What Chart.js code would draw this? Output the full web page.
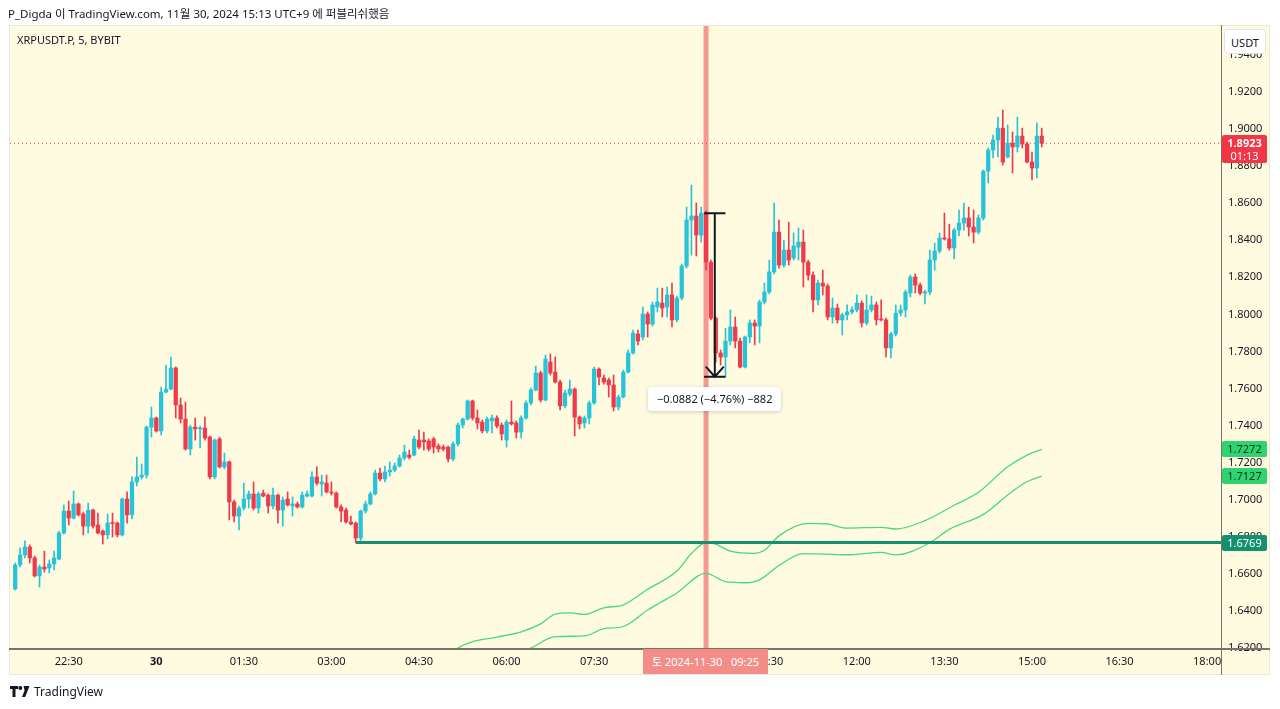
<!DOCTYPE html>
<html>
<head>
<meta charset="utf-8">
<script src="https://cdn.jsdelivr.net/npm/chart.js@4.4.1/dist/chart.umd.min.js"></script>
<style>
html,body{margin:0;padding:0;background:#fff;width:1280px;height:709px;overflow:hidden;font-family:"Noto Sans","Noto Sans CJK KR",sans-serif;color:#131722}
#panel{position:absolute;left:9px;top:25px;width:1261px;height:650px;background:#fffbe1;box-sizing:border-box;border:1px solid #ece8d4}
#c{position:absolute;left:0;top:0}
.abs{position:absolute;white-space:nowrap}
#hdr{left:8px;top:5px;font-size:11.5px}
#legend{left:17px;top:32px;font-size:11px}
#usdt{left:1224px;top:29px;width:42px;height:25px;line-height:25px;text-align:center;background:#fff;border:1px solid #e0e3eb;border-radius:4px;font-size:11px;box-sizing:border-box}
.tag{left:1222px;width:45px;height:16px;line-height:16px;text-align:center;font-size:11px;border-radius:2px}
#lastTag{height:28px;line-height:13px;background:#f23645;color:#fff;padding-top:1px;box-sizing:border-box}
#measure{height:24px;line-height:24px;padding:0 9px;background:#fff;border-radius:4px;box-shadow:0 1px 4px rgba(0,0,0,0.18);font-size:11px}
#timeTag{top:649px;height:25px;line-height:25px;width:125px;padding-left:9px;box-sizing:border-box;background:#f38d87;color:#fff;font-size:11px}
#footer{left:10px;top:683px;font-size:12px;display:flex;align-items:center;gap:4px}
</style>
</head>
<body>
<div id="panel"></div>
<canvas id="c" width="1280" height="709"></canvas>
<div id="hdr" class="abs">P_Digda 이 TradingView.com, 11월 30, 2024 15:13 UTC+9 에 퍼블리쉬했음</div>
<div id="legend" class="abs">XRPUSDT.P, 5, BYBIT</div>
<div id="usdt" class="abs">USDT</div>
<div id="lastTag" class="abs tag"></div>
<div id="upTag" class="abs tag" style="background:#2fd36f;color:#0b3b1d"></div>
<div id="loTag" class="abs tag" style="background:#2fd36f;color:#0b3b1d"></div>
<div id="supTag" class="abs tag" style="background:#15906f;color:#fff"></div>
<div id="measure" class="abs"></div>
<div id="timeTag" class="abs"></div>
<div id="footer" class="abs"><svg width="20" height="12" viewBox="0 0 20 12"><path d="M0 0h8v3H5.5v8H2.5V3H0z" fill="#131722"/><circle cx="10.3" cy="2" r="2" fill="#131722"/><path d="M13.5 0h6l-4.3 11h-3.2l2.6-6.6z" fill="#131722"/></svg><span>TradingView</span></div>
<script>
// ---- data ----
const firstBar = -11; // bars counted from 22:30 (5-minute candles)
const opens = [
1.6518,1.6648,1.6702,1.6745,1.6686,1.6589,1.6637,1.6632,1.6653,1.6680,1.6820,
1.6939,1.6901,1.6977,1.6923,1.6858,1.6944,1.6864,1.6831,1.6810,1.6874,
1.6874,1.6810,1.7004,1.6918,1.7096,1.7123,1.7133,1.7392,1.7441,1.7371,
1.7581,1.7597,1.7711,1.7511,1.7435,1.7274,1.7392,1.7382,1.7387,1.7338,
1.7123,1.7328,1.7177,1.7204,1.6988,1.6912,1.6955,1.7004,1.7031,1.6955,
1.7036,1.7025,1.6966,1.7025,1.6944,1.7004,1.6966,1.6977,1.6961,1.7020,
1.7020,1.7123,1.7085,1.7090,1.7042,1.7036,1.6961,1.6944,1.6880,1.6874,
1.6793,1.6939,1.6977,1.7031,1.7144,1.7112,1.7150,1.7160,1.7182,1.7225,
1.7241,1.7241,1.7322,1.7322,1.7317,1.7328,1.7290,1.7284,1.7284,1.7220,
1.7301,1.7403,1.7435,1.7533,1.7441,1.7419,1.7371,1.7425,1.7441,1.7403,
1.7322,1.7419,1.7414,1.7365,1.7441,1.7522,1.7592,1.7684,1.7538,1.7743,
1.7689,1.7635,1.7506,1.7570,1.7597,1.7446,1.7414,1.7441,1.7522,1.7705,
1.7657,1.7646,1.7619,1.7500,1.7554,1.7689,1.7792,1.7894,1.7878,1.8002,
1.7948,1.8040,1.8061,1.8040,1.8105,1.7970,1.8088,1.8261,1.8509,1.8531,
1.8428,1.8546,1.8282,1.7980,1.7792,1.7770,1.7856,1.7932,1.7856,1.7716,
1.7878,1.7954,1.7937,1.8067,1.8121,1.8229,1.8444,1.8266,1.8347,1.8304,
1.8363,1.8390,1.8282,1.8212,1.8078,1.8169,1.8153,1.7986,1.8034,1.7970,
1.7997,1.8013,1.8024,1.8061,1.7954,1.8024,1.8051,1.7975,1.7970,1.7819,
1.7894,1.8007,1.8024,1.8115,1.8202,1.8158,1.8115,1.8121,1.8293,1.8342,
1.8412,1.8407,1.8358,1.8455,1.8493,1.8520,1.8471,1.8444,1.8520,1.8773,
1.8887,1.8941,1.9005,1.8849,1.8924,1.8903,1.8962,1.8919,1.8822,1.8790,
1.8962];
const highs = [
1.6659,1.6740,1.6778,1.6756,1.6696,1.6648,1.6723,1.6675,1.6723,1.6831,1.6972,
1.6993,1.7047,1.6982,1.6934,1.6982,1.6950,1.6928,1.6837,1.6923,1.6928,
1.6880,1.7009,1.7042,1.7123,1.7230,1.7193,1.7398,1.7500,1.7446,1.7608,
1.7727,1.7770,1.7716,1.7549,1.7527,1.7403,1.7441,1.7398,1.7446,1.7344,
1.7328,1.7338,1.7252,1.7209,1.6998,1.6966,1.7090,1.7047,1.7096,1.7042,
1.7052,1.7031,1.7063,1.7031,1.7015,1.7042,1.7015,1.6988,1.7042,1.7047,
1.7150,1.7177,1.7133,1.7133,1.7096,1.7042,1.6972,1.6955,1.6912,1.6880,
1.6944,1.6993,1.7042,1.7160,1.7171,1.7182,1.7204,1.7198,1.7241,1.7295,
1.7268,1.7344,1.7376,1.7365,1.7328,1.7338,1.7301,1.7295,1.7290,1.7312,
1.7414,1.7441,1.7538,1.7538,1.7484,1.7430,1.7446,1.7457,1.7452,1.7414,
1.7430,1.7533,1.7425,1.7452,1.7533,1.7603,1.7721,1.7694,1.7781,1.7786,
1.7770,1.7646,1.7592,1.7646,1.7603,1.7452,1.7452,1.7533,1.7716,1.7711,
1.7673,1.7657,1.7673,1.7565,1.7700,1.7808,1.7916,1.7916,1.8040,1.8013,
1.8067,1.8142,1.8142,1.8148,1.8169,1.8099,1.8272,1.8579,1.8698,1.8601,
1.8579,1.8558,1.8293,1.7986,1.7808,1.7926,1.8024,1.7986,1.7872,1.7883,
1.7970,1.7970,1.8078,1.8169,1.8293,1.8601,1.8509,1.8401,1.8498,1.8439,
1.8466,1.8455,1.8293,1.8229,1.8185,1.8239,1.8164,1.8088,1.8056,1.8007,
1.8051,1.8040,1.8105,1.8072,1.8105,1.8099,1.8067,1.8078,1.7980,1.7905,
1.8051,1.8051,1.8131,1.8212,1.8218,1.8169,1.8131,1.8347,1.8385,1.8439,
1.8547,1.8487,1.8466,1.8563,1.8601,1.8579,1.8563,1.8536,1.8779,1.8898,
1.8968,1.9065,1.9103,1.9022,1.8984,1.9065,1.9005,1.8930,1.8876,1.9032,
1.9005];
const lows = [
1.6513,1.6637,1.6686,1.6659,1.6583,1.6529,1.6610,1.6605,1.6621,1.6675,1.6815,
1.6864,1.6896,1.6912,1.6810,1.6820,1.6847,1.6815,1.6761,1.6788,1.6799,
1.6799,1.6804,1.6874,1.6896,1.7074,1.7112,1.7117,1.7338,1.7365,1.7349,
1.7576,1.7592,1.7441,1.7414,1.7268,1.7241,1.7322,1.7279,1.7322,1.7112,
1.7112,1.7171,1.7166,1.6891,1.6880,1.6837,1.6944,1.6955,1.6944,1.6928,
1.7015,1.6928,1.6950,1.6874,1.6858,1.6966,1.6912,1.6955,1.6955,1.7015,
1.7015,1.7079,1.7020,1.7036,1.7025,1.6955,1.6880,1.6874,1.6864,1.6769,
1.6777,1.6928,1.6972,1.7025,1.7101,1.7096,1.7128,1.7150,1.7177,1.7214,
1.7220,1.7236,1.7274,1.7268,1.7263,1.7252,1.7257,1.7263,1.7204,1.7209,
1.7290,1.7387,1.7430,1.7430,1.7382,1.7360,1.7360,1.7360,1.7387,1.7322,
1.7284,1.7403,1.7333,1.7333,1.7435,1.7511,1.7587,1.7527,1.7533,1.7673,
1.7630,1.7484,1.7495,1.7560,1.7344,1.7382,1.7387,1.7409,1.7516,1.7619,
1.7624,1.7554,1.7479,1.7484,1.7549,1.7684,1.7786,1.7835,1.7862,1.7878,
1.7937,1.8013,1.7986,1.7986,1.7932,1.7959,1.8078,1.8250,1.8320,1.8315,
1.8390,1.8239,1.7970,1.7743,1.7727,1.7664,1.7835,1.7819,1.7711,1.7711,
1.7846,1.7835,1.7846,1.8056,1.8110,1.8218,1.8250,1.8255,1.8266,1.8293,
1.8293,1.8148,1.8185,1.8013,1.8051,1.8105,1.7970,1.7953,1.7953,1.7889,
1.7970,1.8002,1.8013,1.7932,1.7943,1.8013,1.7943,1.7964,1.7770,1.7765,
1.7883,1.7991,1.7986,1.8094,1.8115,1.8105,1.8056,1.8105,1.8239,1.8331,
1.8401,1.8347,1.8299,1.8423,1.8455,1.8423,1.8385,1.8434,1.8509,1.8709,
1.8844,1.8849,1.8806,1.8844,1.8763,1.8876,1.8898,1.8817,1.8725,1.8736,
1.8903];
const closes = [
1.6648,1.6702,1.6745,1.6686,1.6589,1.6637,1.6626,1.6653,1.6686,1.6820,1.6939,
1.6901,1.6977,1.6918,1.6858,1.6944,1.6858,1.6820,1.6810,1.6874,1.6872,
1.6810,1.7004,1.6918,1.7096,1.7123,1.7133,1.7392,1.7441,1.7371,1.7581,
1.7597,1.7711,1.7511,1.7435,1.7274,1.7392,1.7382,1.7387,1.7333,1.7123,
1.7322,1.7177,1.7204,1.6988,1.6912,1.6955,1.7004,1.7031,1.6955,1.7031,
1.7020,1.6966,1.7025,1.6944,1.6998,1.6972,1.6977,1.6961,1.7025,1.7031,
1.7123,1.7090,1.7096,1.7042,1.7036,1.6961,1.6939,1.6880,1.6869,1.6793,
1.6939,1.6977,1.7031,1.7144,1.7112,1.7150,1.7160,1.7182,1.7225,1.7257,
1.7230,1.7328,1.7284,1.7312,1.7274,1.7284,1.7274,1.7274,1.7220,1.7301,
1.7403,1.7435,1.7533,1.7441,1.7414,1.7371,1.7435,1.7441,1.7398,1.7355,
1.7419,1.7409,1.7365,1.7441,1.7522,1.7592,1.7684,1.7538,1.7759,1.7684,
1.7635,1.7506,1.7576,1.7597,1.7446,1.7409,1.7441,1.7522,1.7705,1.7662,
1.7635,1.7619,1.7500,1.7554,1.7689,1.7792,1.7899,1.7856,1.8002,1.7948,
1.8051,1.8067,1.8034,1.8105,1.7970,1.8088,1.8261,1.8509,1.8531,1.8428,
1.8546,1.8282,1.7980,1.7792,1.7770,1.7856,1.7932,1.7856,1.7716,1.7878,
1.7954,1.7937,1.8067,1.8121,1.8229,1.8444,1.8266,1.8347,1.8293,1.8369,
1.8390,1.8282,1.8212,1.8078,1.8169,1.8153,1.7986,1.8034,1.7970,1.7997,
1.8013,1.8024,1.8061,1.7954,1.8024,1.8051,1.7970,1.7970,1.7819,1.7894,
1.8007,1.8024,1.8121,1.8202,1.8158,1.8115,1.8121,1.8293,1.8342,1.8412,
1.8407,1.8358,1.8455,1.8493,1.8520,1.8471,1.8444,1.8520,1.8773,1.8887,
1.8941,1.9005,1.8822,1.8924,1.8903,1.8962,1.8919,1.8822,1.8790,1.8962,
1.8923];

const upperBars = [78,80,83,88,93,97,100,103,106,110,114,119,125,128,131,133,136,141,143,146,152,156,160,167,170,176,182,187,193,197,200];
const upperVals = [1.6168,1.6200,1.6234,1.6259,1.6287,1.6330,1.6383,1.6390,1.6381,1.6417,1.6433,1.6517,1.6615,1.6710,1.6768,1.6760,1.6723,1.6711,1.6727,1.6805,1.6872,1.6869,1.6847,1.6851,1.6842,1.6887,1.6970,1.7040,1.7178,1.7241,1.7272];
const lowerBars = [93,95,100,106,110,114,119,125,131,135,139,142,146,151,155,160,167,170,177,181,188,194,197,200];
const lowerVals = [1.6180,1.6200,1.6261,1.6265,1.6304,1.6316,1.6405,1.6497,1.6603,1.6558,1.6552,1.6568,1.6645,1.6709,1.6707,1.6703,1.6716,1.6702,1.6768,1.6840,1.6921,1.7046,1.7097,1.7127];

const timeLabels = ['22:30','30','01:30','03:00','04:30','06:00','07:30','09:00','10:30','12:00','13:30','15:00','16:30','18:00'];
const barsPerTimeLabel = 18;
const priceTicks = [1.62,1.64,1.66,1.68,1.70,1.72,1.74,1.76,1.78,1.80,1.82,1.84,1.86,1.88,1.90,1.92,1.94];

const supportLevel = 1.6769, supportFromBar = 59;
const lastPrice = 1.8923, barCountdown = '01:13';
const crosshairBar = 131, crosshairLabel = '토 2024-11-30   09:25';
const measureFrom = 1.8546, measureTo = 1.7664;
const measureBars = [130.6, 135.0];

// ---- view ----
const xMin = -12.07, xMax = 236.85, yMin = 1.62, yMax = 1.9556;
const UP = '#27c3d8', DOWN = '#ee3b4c';
const FONT = '"Noto Sans","Noto Sans CJK KR",sans-serif';
Chart.defaults.font.family = FONT;

const bars = opens.map((o, i) => firstBar + i);
const colorOf = ctx => {
  const i = ctx.dataIndex;
  if (i === undefined) return UP;
  return closes[i] >= opens[i] ? UP : DOWN;
};

const decor = {
  id: 'decor',
  afterDatasetsDraw(chart) {
    const {ctx, scales: {x, y}} = chart;
    const x0 = x.getPixelForValue(measureBars[0]), x1 = x.getPixelForValue(measureBars[1]);
    const xm = (x0 + x1) / 2;
    const yt = y.getPixelForValue(measureFrom), yb = y.getPixelForValue(measureTo);
    ctx.save();
    ctx.strokeStyle = '#131722'; ctx.lineWidth = 2;
    ctx.beginPath();
    ctx.moveTo(x0, yt); ctx.lineTo(x1, yt);
    ctx.moveTo(xm, yt); ctx.lineTo(xm, yb);
    ctx.moveTo(x0, yb); ctx.lineTo(x1, yb);
    ctx.moveTo(xm - 9, yb - 10); ctx.lineTo(xm, yb); ctx.lineTo(xm + 9, yb - 10);
    ctx.stroke();
    ctx.restore();
  },
  afterDraw(chart) {
    const {ctx, chartArea: a} = chart;
    ctx.save();
    ctx.strokeStyle = '#77746a';
    ctx.lineWidth = 2;
    ctx.beginPath(); ctx.moveTo(9, a.bottom + 1); ctx.lineTo(1270, a.bottom + 1); ctx.stroke();
    ctx.lineWidth = 1;
    ctx.beginPath(); ctx.moveTo(a.right + 0.5, 25); ctx.lineTo(a.right + 0.5, 675); ctx.stroke();
    ctx.restore();
  }
};

const chart = new Chart(document.getElementById('c'), {
  type: 'bar',
  data: {
    datasets: [
      {type: 'line', data: [{x: crosshairBar, y: yMin}, {x: crosshairBar, y: yMax}],
       borderColor: 'rgba(242,54,69,0.5)', borderWidth: 5, pointRadius: 0, order: 9},
      {type: 'line', data: upperBars.map((b, i) => ({x: b, y: upperVals[i]})),
       borderColor: '#46da7b', borderWidth: 1.3, pointRadius: 0, cubicInterpolationMode: 'monotone', order: 8},
      {type: 'line', data: lowerBars.map((b, i) => ({x: b, y: lowerVals[i]})),
       borderColor: '#46da7b', borderWidth: 1.3, pointRadius: 0, cubicInterpolationMode: 'monotone', order: 8},
      {type: 'line', data: [{x: supportFromBar, y: supportLevel}, {x: xMax, y: supportLevel}],
       borderColor: '#15906f', borderWidth: 3, pointRadius: 0, order: 7},
      {type: 'line', data: [{x: xMin, y: lastPrice}, {x: xMax, y: lastPrice}],
       borderColor: '#f23645', borderWidth: 1, borderDash: [1, 3], pointRadius: 0, order: 7},
      {type: 'bar', data: bars.map((b, i) => ({x: b, y: [lows[i], highs[i]]})),
       backgroundColor: colorOf, barThickness: 1, grouped: false, order: 2},
      {type: 'bar', data: bars.map((b, i) => ({x: b, y: [opens[i], closes[i]]})),
       backgroundColor: colorOf, barThickness: 3.6, minBarLength: 1, grouped: false, order: 1}
    ]
  },
  options: {
    responsive: false, animation: false, devicePixelRatio: 1,
    layout: {padding: {left: 10, top: 26, right: 10, bottom: 34}},
    plugins: {legend: {display: false}, tooltip: {enabled: false}},
    scales: {
      x: {
        type: 'linear', min: xMin, max: xMax, offset: false,
        grid: {display: false, drawTicks: false}, border: {display: false},
        afterBuildTicks: s => { s.ticks = timeLabels.map((l, i) => ({value: i * barsPerTimeLabel})); },
        afterFit: s => { s.height = 27; },
        ticks: {
          autoSkip: false, maxRotation: 0, padding: 7, color: '#131722',
          font: ctx => ({family: FONT, size: 11, weight: (ctx.tick && ctx.tick.value === barsPerTimeLabel) ? 'bold' : 'normal'}),
          callback: (v, i) => timeLabels[i]
        }
      },
      y: {
        position: 'right', min: yMin, max: yMax,
        grid: {display: false, drawTicks: false}, border: {display: false},
        afterBuildTicks: s => { s.ticks = priceTicks.map(v => ({value: v})); },
        afterFit: s => { s.width = 49; },
        ticks: {padding: 7, color: '#131722', font: {family: FONT, size: 11}, callback: v => v.toFixed(4)}
      }
    }
  },
  plugins: [decor]
});

// ---- overlay labels positioned from the chart scales ----
const sx = chart.scales.x, sy = chart.scales.y;
function put(id, left, top, text) {
  const el = document.getElementById(id);
  if (left !== null) el.style.left = left + 'px';
  el.style.top = top + 'px';
  if (text !== undefined) el.textContent = text;
  return el;
}
const lastEl = put('lastTag', null, Math.round(sy.getPixelForValue(lastPrice)) - 8);
lastEl.innerHTML = '<b>' + lastPrice.toFixed(4) + '</b><br>' + barCountdown;
put('upTag', null, Math.round(sy.getPixelForValue(upperVals[upperVals.length - 1])) - 8, upperVals[upperVals.length - 1].toFixed(4));
put('loTag', null, Math.round(sy.getPixelForValue(lowerVals[lowerVals.length - 1])) - 8, lowerVals[lowerVals.length - 1].toFixed(4));
put('supTag', null, Math.round(sy.getPixelForValue(supportLevel)) - 8, supportLevel.toFixed(4));

const diff = measureTo - measureFrom;
const pct = diff / measureFrom * 100;
const ticksMoved = Math.round(diff / 0.0001);
const mEl = put('measure', 0, Math.round(sy.getPixelForValue(measureTo)) + 10,
  '\u2212' + Math.abs(diff).toFixed(4) + ' (\u2212' + Math.abs(pct).toFixed(2) + '%) \u2212' + Math.abs(ticksMoved));
const xm = (sx.getPixelForValue(measureBars[0]) + sx.getPixelForValue(measureBars[1])) / 2;
mEl.style.left = Math.round(xm - mEl.offsetWidth / 2) + 'px';

const tEl = put('timeTag', Math.round(sx.getPixelForValue(crosshairBar)) - 63, 649, crosshairLabel);
tEl.style.whiteSpace = 'pre';
</script>
</body>
</html>
